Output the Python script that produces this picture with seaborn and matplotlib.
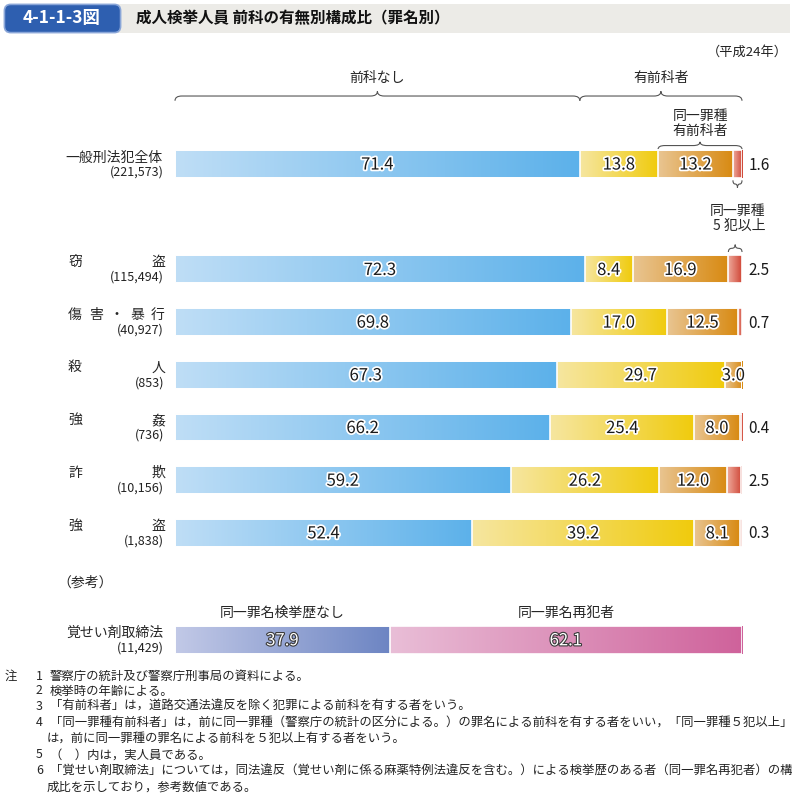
import numpy as np
import pandas as pd
import matplotlib
matplotlib.use("Agg")
import matplotlib.pyplot as plt
import matplotlib.patheffects as pe
from matplotlib.path import Path
from matplotlib.patches import PathPatch, FancyBboxPatch, Rectangle
from matplotlib.transforms import blended_transform_factory
import seaborn as sns

# data
crimes = ['一般刑法犯全体', '窃盗', '傷害・暴行', '殺人', '強姦', '詐欺', '強盗']
counts = ['(221,573)', '(115,494)', '(40,927)', '(853)', '(736)', '(10,156)', '(1,838)']
no_record = [71.4, 72.3, 69.8, 67.3, 66.2, 59.2, 52.4]
other_record = [13.8, 8.4, 17.0, 29.7, 25.4, 26.2, 39.2]
same_record = [13.2, 16.9, 12.5, 3.0, 8.0, 12.0, 8.1]
same_5plus = [1.6, 2.5, 0.7, 0.0, 0.4, 2.5, 0.3]
row_pos = [0, 2, 3, 4, 5, 6, 7]

ref_name = '覚せい剤取締法'
ref_count = '(11,429)'
ref_labels = ['同一罪名検挙歴なし', '同一罪名再犯者']
ref_values = [37.9, 62.1]

seg_colors = [('#bfdef6', '#5cb1ea'), ('#f6e6a0', '#f0cb0c'),
              ('#e9c592', '#d88a12'), ('#eeaa9c', '#d04636')]
ref_colors = [('#c2c9e7', '#6d85c3'), ('#e9bed7', '#cf629b')]

notes = [
    ('注', '1', '警察庁の統計及び警察庁刑事局の資料による。'),
    ('', '2', '検挙時の年齢による。'),
    ('', '3', '「有前科者」は，道路交通法違反を除く犯罪による前科を有する者をいう。'),
    ('', '4', '「同一罪種有前科者」は，前に同一罪種（警察庁の統計の区分による。）の罪名による前科を有する者をいい，「同一罪種５犯以上」'),
    ('', '', 'は，前に同一罪種の罪名による前科を５犯以上有する者をいう。'),
    ('', '5', '（　）内は，実人員である。'),
    ('', '6', '「覚せい剤取締法」については，同法違反（覚せい剤に係る麻薬特例法違反を含む。）による検挙歴のある者（同一罪名再犯者）の構'),
    ('', '', '成比を示しており，参考数値である。'),
]

sns.set_style('white')
plt.rcParams['font.family'] = ['Noto Sans CJK JP', 'DejaVu Sans']

W, H = 792, 798
fig = plt.figure(figsize=(W / 100, H / 100), dpi=100)


def fx(x):
    return x / W


def fy(y):
    return 1 - y / H


def gradient(c0, c1):
    a = np.array(matplotlib.colors.to_rgb(c0))
    b = np.array(matplotlib.colors.to_rgb(c1))
    t = np.linspace(0, 1, 256)[:, None]
    return (a + (b - a) * t)[None, :, :]


def brace(ax, x0, x1, y, d, r=1.0, color='#555555'):
    r = min(r, (x1 - x0) / 4)
    xm = (x0 + x1) / 2
    verts = [(x0, y + d), (x0, y), (x0 + r, y), (xm - r, y), (xm, y), (xm, y - d),
             (xm, y), (xm + r, y), (x1 - r, y), (x1, y), (x1, y + d)]
    codes = [Path.MOVETO, Path.CURVE3, Path.CURVE3, Path.LINETO, Path.CURVE3, Path.CURVE3,
             Path.CURVE3, Path.CURVE3, Path.LINETO, Path.CURVE3, Path.CURVE3]
    ax.add_patch(PathPatch(Path(verts, codes), fill=False, lw=0.8, color=color, clip_on=False))


# title band
fig.add_artist(Rectangle((fx(100), fy(33)), fx(690), 29 / H, transform=fig.transFigure,
                         color='#ecebe7', lw=0))
fig.add_artist(FancyBboxPatch((fx(6), fy(31)), fx(113), 25 / H, transform=fig.transFigure,
                              boxstyle='round,pad=0.002,rounding_size=0.008',
                              fc='#2e5fb0', ec='#8aa6d8', lw=1.2))
fig.text(fx(62), fy(18), '4-1-1-3図', color='white', fontsize=12.5, fontweight='bold',
         ha='center', va='center')
fig.text(fx(136), fy(18), '成人検挙人員 前科の有無別構成比（罪名別）', fontsize=11.2,
         fontweight='bold', ha='left', va='center', color='#111111')
fig.text(fx(788), fy(52), '（平成24年）', fontsize=9.5, ha='right', va='center', color='#222222')

# main bars
ax = fig.add_axes([fx(175), fy(585.6), 567 / W, 527 / H])
segs = np.array([no_record, other_record, same_record, same_5plus])
cum = np.cumsum(segs, axis=0)
df = pd.DataFrame({'pos': row_pos})
for k in range(4):
    df[f'cum{k}'] = np.minimum(cum[k], 100)

bh = 0.53
for k in [3, 2, 1, 0]:
    n0 = len(ax.patches)
    sns.barplot(data=df, x=f'cum{k}', y='pos', orient='y', native_scale=True, width=bh,
                color=seg_colors[k][1], errorbar=None, ax=ax)
    for p in ax.patches[n0:]:
        p.set_facecolor('none')
        p.set_edgecolor('white')
        p.set_linewidth(1.2)
        p.set_zorder(3)

halo = [pe.withStroke(linewidth=2.5, foreground='white')]
for i, y in enumerate(row_pos):
    for k in range(4):
        v = segs[k][i]
        if v <= 0:
            continue
        x0 = df[f'cum{k - 1}'][i] if k > 0 else 0
        x1 = df[f'cum{k}'][i]
        ax.imshow(gradient(*seg_colors[k]), extent=[x0, x1, y + bh / 2, y - bh / 2],
                  aspect='auto', interpolation='bilinear', zorder=1)
        if k < 3:
            ax.text((x0 + x1) / 2, y + 0.02, f'{v:.1f}', ha='center', va='center',
                    fontsize=12, color='#1a1a1a', path_effects=halo, zorder=4)
        else:
            ax.text(101.1, y + 0.02, f'{v:.1f}', ha='left', va='center',
                    fontsize=11, color='#1a1a1a', zorder=4)

ax.set_xlim(0, 100)
ax.set_ylim(8, -2)
ax.set_axis_off()

# braces and group labels
brace(ax, 0, cum[0][0], -1.29, 0.09, r=1.2)
brace(ax, cum[0][0], 100, -1.29, 0.09, r=1.2)
ax.text(cum[0][0] / 2, -1.63, '前科なし', ha='center', va='center', fontsize=10)
ax.text((cum[0][0] + 100) / 2, -1.63, '有前科者', ha='center', va='center', fontsize=10)
brace(ax, cum[1][0], 100, -0.35, 0.07, r=1.2)
ax.text((cum[1][0] + 100) / 2, -0.77, '同一罪種\n有前科者', ha='center', va='center',
        fontsize=10, linespacing=1.1)
brace(ax, cum[2][0], cum[3][0], 0.38, -0.07, r=0.5)
ax.text(104.1, 1.04, '同一罪種\n5 犯以上', ha='right', va='center', fontsize=10,
        linespacing=1.1, multialignment='right')
brace(ax, cum[2][1], 100, 1.60, 0.07, r=0.6)

# row labels
tr = blended_transform_factory(fig.transFigure, ax.transData)
for name, cnt, y in zip(crimes, counts, row_pos):
    if len(name) > 5:
        ax.text(fx(163), y - 0.12, name, transform=tr, ha='right', va='center', fontsize=10)
    else:
        xs = np.linspace(75, 158, len(name))
        for ch, xc in zip(name, xs):
            ax.text(fx(xc), y - 0.14, ch, transform=tr, ha='center', va='center', fontsize=10)
    ax.text(fx(164), y + 0.15, cnt, transform=tr, ha='right', va='center', fontsize=9,
            color='#222222')

# reference bar
fig.text(fx(57), fy(583), '（参考）', fontsize=10, ha='left', va='center')
ax2 = fig.add_axes([fx(175), fy(654), 567 / W, 28 / H])
ref_cum = np.cumsum(ref_values)
rdf = pd.DataFrame({'name': [ref_name], 'c0': [ref_cum[0]], 'c1': [ref_cum[1]]})
for k in [1, 0]:
    n0 = len(ax2.patches)
    sns.barplot(data=rdf, x=f'c{k}', y='name', orient='y', width=1, color=ref_colors[k][1],
                errorbar=None, ax=ax2)
    for p in ax2.patches[n0:]:
        p.set_facecolor('none')
        p.set_edgecolor('white')
        p.set_linewidth(1.2)
        p.set_zorder(3)
halo2 = [pe.withStroke(linewidth=1.6, foreground='#3a3a3a')]
for k in range(2):
    x0 = ref_cum[k - 1] if k > 0 else 0
    x1 = ref_cum[k]
    ax2.imshow(gradient(*ref_colors[k]), extent=[x0, x1, 0.5, -0.5], aspect='auto',
               interpolation='bilinear', zorder=1)
    ax2.text((x0 + x1) / 2, 0.03, f'{ref_values[k]:.1f}', ha='center', va='center',
             fontsize=12, color='white', path_effects=halo2, zorder=4)
    ax2.text((x0 + x1) / 2, -0.97, ref_labels[k], ha='center', va='center', fontsize=10)
ax2.set_xlim(0, 100)
ax2.set_ylim(0.5, -0.5)
ax2.set_axis_off()
fig.text(fx(163), fy(633), ref_name, fontsize=10, ha='right', va='center')
fig.text(fx(164), fy(648), ref_count, fontsize=9, ha='right', va='center', color='#222222')

# notes
ny = [676, 691, 706, 722, 738, 755, 771, 787]
for (head, num, txt), y in zip(notes, ny):
    if head:
        fig.text(fx(5), fy(y), head, fontsize=8.9, ha='left', va='center')
    if num:
        fig.text(fx(36), fy(y), num, fontsize=8.9, ha='left', va='center')
    fig.text(fx(50 if num else 47), fy(y), txt, fontsize=8.9, ha='left', va='center',
             color='#222222')

fig.savefig('out.png', dpi=100)
